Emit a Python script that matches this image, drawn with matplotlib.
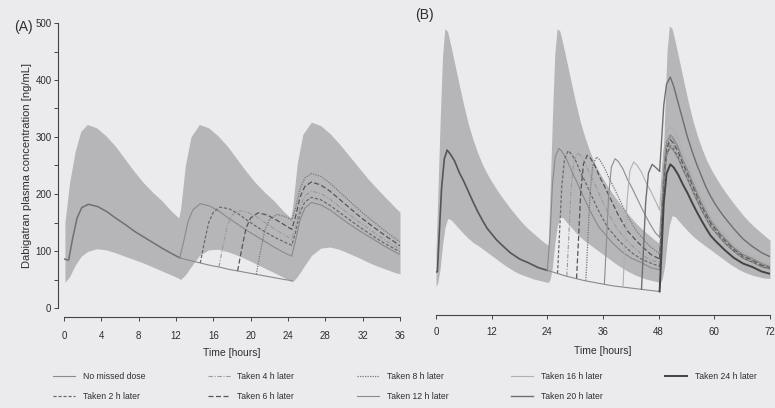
import numpy as np
import matplotlib
matplotlib.use("Agg")
import matplotlib.pyplot as plt
from matplotlib.lines import Line2D

plt.rcParams['font.family'] = ['Liberation Sans', 'DejaVu Sans']

bg = "#ebebee"
band_color = "#b6b6b9"
text_color = "#2e2e2e"

# ---------------- Panel A: twice daily (12 h interval) ----------------
a_t_nomiss = [0, 0.5, 0.9, 1.4, 1.9, 2.6, 3.6, 4.6, 5.6, 6.6, 7.6, 8.6, 9.6, 10.6, 11.6,
              12.4, 12.8, 13.3, 13.8, 14.6, 15.6, 16.6, 17.6, 18.6, 19.6, 20.6, 21.6, 22.6, 23.6,
              24.4, 24.8, 25.3, 25.8, 26.5, 27.5, 28.5, 29.5, 30.5, 31.5, 32.5, 33.5, 34.5, 35.5, 36]
a_c_nomiss = [86, 84, 120, 158, 176, 182, 178, 169, 157, 146, 134, 124, 114, 104, 95,
              88, 115, 152, 172, 183, 179, 170, 158, 147, 136, 126, 116, 106, 97,
              91, 118, 155, 175, 185, 181, 172, 160, 148, 137, 127, 117, 107, 98, 94]

# missed dose, not yet taken
a_t_skip = [12.4, 13.6, 14.6, 15.6, 16.6, 17.6, 18.6, 19.6, 20.6, 21.6, 22.6, 23.6, 24.4]
a_c_skip = [88, 83, 79, 75, 72, 68, 65, 62, 59, 56, 53, 50, 48]

a_t_2h = [14.6, 15.0, 15.5, 16.0, 16.7, 17.7, 18.7, 19.7, 20.7, 21.7, 22.7, 23.7,
          24.4, 24.8, 25.3, 25.8, 26.5, 27.5, 28.5, 29.5, 30.5, 31.5, 32.5, 33.5, 34.5, 35.5, 36]
a_c_2h = [79, 112, 150, 168, 177, 174, 165, 153, 142, 132, 123, 115,
          110, 132, 168, 186, 194, 190, 180, 168, 156, 144, 133, 122, 112, 103, 99]
a_t_4h = [16.6, 17.0, 17.5, 18.0, 18.7, 19.7, 20.7, 21.7, 22.7, 23.7,
          24.4, 24.8, 25.3, 25.8, 26.5, 27.5, 28.5, 29.5, 30.5, 31.5, 32.5, 33.5, 34.5, 35.5, 36]
a_c_4h = [72, 106, 145, 163, 171, 168, 159, 148, 137, 127,
          121, 142, 178, 197, 205, 201, 191, 178, 165, 152, 141, 129, 118, 108, 103]
a_t_6h = [18.6, 19.0, 19.5, 20.0, 20.8, 21.8, 22.8, 23.8,
          24.4, 24.8, 25.3, 25.8, 26.5, 27.5, 28.5, 29.5, 30.5, 31.5, 32.5, 33.5, 34.5, 35.5, 36]
a_c_6h = [65, 100, 140, 158, 167, 163, 154, 144,
          138, 160, 195, 213, 221, 216, 205, 191, 177, 163, 150, 138, 126, 115, 109]
a_t_8h = [20.6, 21.0, 21.5, 22.0, 22.8, 23.6,
          24.4, 24.8, 25.3, 25.8, 26.5, 27.5, 28.5, 29.5, 30.5, 31.5, 32.5, 33.5, 34.5, 35.5, 36]
a_c_8h = [59, 95, 135, 155, 164, 161,
          155, 175, 210, 228, 236, 231, 219, 204, 189, 174, 160, 147, 134, 122, 116]

# shaded variability band
a_t_band = [0.1, 0.6, 1.2, 1.8, 2.5, 3.5, 4.5, 5.5, 6.5, 7.5, 8.5, 9.5, 10.5, 11.5, 12.3,
            12.5, 13.0, 13.6, 14.5, 15.5, 16.5, 17.5, 18.5, 19.5, 20.5, 21.5, 22.5, 23.5, 24.3,
            24.5, 25.0, 25.6, 26.5, 27.5, 28.5, 29.5, 30.5, 31.5, 32.5, 33.5, 34.5, 35.5, 36]
a_band_hi = [150, 220, 275, 310, 322, 316, 302, 284, 262, 240, 220, 203, 188, 170, 158,
             175, 250, 300, 322, 316, 302, 284, 262, 240, 220, 203, 188, 170, 158,
             178, 255, 305, 326, 320, 306, 288, 268, 248, 228, 210, 193, 176, 168]
a_band_lo = [45, 55, 75, 90, 99, 104, 102, 97, 91, 85, 79, 72, 65, 58, 52,
             50, 58, 72, 92, 102, 103, 99, 93, 86, 78, 70, 62, 54, 47,
             46, 55, 70, 92, 105, 107, 103, 96, 89, 81, 74, 68, 62, 60]

# ---------------- Panel B: once daily (24 h interval) ----------------
b_t_nomiss = [0, 0.3, 0.7, 1.2, 1.8, 2.4, 3, 4, 5, 6, 7, 8, 9, 10, 11, 12, 13, 14, 16, 18, 20, 22, 24,
              24.6, 25.1, 25.7, 26.5, 27.2, 28.2, 29.2, 30.2, 31.2, 32.2, 33.2, 34.2, 35.2, 36.2,
              37.2, 38.2, 40.2, 42.2, 44.2, 46.2, 48.2]
b_c_nomiss = [63, 64, 130, 210, 262, 277, 271, 258, 238, 222, 204, 186, 169, 154, 140, 130, 120, 112, 97, 86, 79, 71, 66,
              130, 216, 265, 280, 274, 260, 241, 224, 206, 188, 171, 155, 141, 132,
              122, 113, 98, 87, 80, 71, 67]
n_first_b = 23  # points of the first day, shared by all scenarios

b_t_skip = [24, 26, 28, 30, 32, 34, 36, 38, 40, 42, 44, 46, 48.2]
b_c_skip = [66, 61, 56, 52, 48, 45, 42, 39, 37, 35, 33, 31, 29]

b_t_2h = [26.2, 26.6, 27.1, 27.7, 28.5, 29.2, 30.2, 31.2, 32.2, 33.2, 34.2, 35.2, 36.2, 37.2, 38.2,
          39.2, 40.2, 42.2, 44.2, 46.2, 48.2]
b_c_2h = [61, 126, 212, 261, 276, 270, 257, 237, 221, 203, 185, 168, 153, 139, 130,
          120, 112, 97, 86, 79, 73]
b_t_4h = [28.2, 28.6, 29.1, 29.7, 30.5, 31.2, 32.2, 33.2, 34.2, 35.2, 36.2, 37.2, 38.2, 39.2, 40.2,
          41.2, 42.2, 44.2, 46.2, 48.2]
b_c_4h = [56, 121, 207, 257, 272, 267, 253, 234, 218, 200, 182, 166, 151, 137, 128,
          118, 110, 95, 84, 80]
b_t_6h = [30.3, 30.7, 31.2, 31.8, 32.6, 33.3, 34.3, 35.3, 36.3, 37.3, 38.3, 39.3, 40.3, 41.3, 42.3,
          43.3, 44.3, 46.3, 48.2]
b_c_6h = [52, 117, 203, 253, 268, 263, 249, 230, 214, 197, 180, 163, 149, 135, 126,
          117, 109, 94, 86]
b_t_8h = [32.3, 32.7, 33.2, 33.8, 34.6, 35.3, 36.3, 37.3, 38.3, 39.3, 40.3, 41.3, 42.3, 43.3, 44.3,
          45.3, 46.3, 48.2]
b_c_8h = [48, 113, 200, 250, 265, 260, 246, 228, 212, 195, 178, 162, 147, 134, 125,
          115, 107, 95]
b_t_12h = [36.3, 36.7, 37.2, 37.8, 38.6, 39.3, 40.3, 41.3, 42.3, 43.3, 44.3, 45.3, 46.3, 47.3, 48.2]
b_c_12h = [42, 108, 196, 247, 262, 257, 244, 225, 210, 193, 176, 160, 145, 132, 124]
b_t_16h = [40.3, 40.7, 41.2, 41.8, 42.6, 43.3, 44.3, 45.3, 46.3, 47.3, 48.2]
b_c_16h = [37, 103, 190, 241, 256, 251, 238, 220, 205, 188, 172]
b_t_20h = [44.3, 44.7, 45.2, 45.8, 46.6, 47.3, 48.2]
b_c_20h = [33, 99, 186, 237, 252, 247, 240]

# third day, all scenarios
b_t_day3 = [48.2, 48.6, 49.1, 49.7, 50.5, 51.2, 52.2, 53.2, 54.2, 55.2, 56.2, 57.2, 58.2, 59.2,
            60.2, 61.2, 62.2, 64.2, 66.2, 68.2, 70.2, 72]
b_day3 = {
    "No missed dose":   [67, 132, 218, 267, 282, 276, 262, 243, 226, 207, 189, 172, 157, 142, 133, 123, 114, 99, 87, 80, 72, 68],
    "Taken 2 h later":  [73, 137, 221, 270, 285, 279, 265, 245, 228, 209, 191, 174, 158, 144, 134, 124, 115, 100, 88, 81, 73, 69],
    "Taken 4 h later":  [80, 143, 227, 275, 290, 284, 270, 249, 232, 213, 194, 177, 161, 146, 136, 126, 117, 102, 90, 83, 74, 70],
    "Taken 6 h later":  [86, 149, 232, 280, 295, 289, 274, 254, 236, 217, 198, 180, 164, 149, 139, 128, 119, 103, 91, 84, 75, 71],
    "Taken 8 h later":  [95, 157, 239, 286, 300, 294, 279, 258, 240, 221, 201, 183, 167, 152, 141, 131, 122, 105, 93, 86, 77, 72],
    "Taken 12 h later": [124, 178, 250, 291, 304, 298, 283, 261, 243, 223, 204, 185, 169, 154, 143, 132, 123, 106, 94, 87, 78, 73],
    "Taken 16 h later": [172, 216, 274, 308, 318, 312, 296, 273, 254, 234, 213, 194, 176, 161, 149, 138, 129, 111, 99, 91, 81, 76],
    "Taken 20 h later": [240, 290, 356, 393, 405, 390, 360, 330, 300, 275, 252, 232, 212, 196, 182, 170, 159, 139, 121, 108, 97, 90],
    "Taken 24 h later": [29, 96, 185, 236, 252, 247, 234, 217, 202, 185, 169, 154, 140, 127, 118, 110, 102, 88, 78, 72, 64, 60],
}

b_t_band = [0, 0.4, 0.9, 1.4, 1.9, 2.5, 3.2, 4, 5, 6, 7, 8, 9, 10, 11, 12, 13, 14, 15, 16, 17, 18, 19, 20, 21, 22, 23, 24,
            24.2, 24.6, 25.1, 25.6, 26.1, 26.7, 27.4, 28.2, 29.2, 30.2, 31.2, 32.2, 33.2, 34.2, 35.2, 36.2, 37.2,
            38.2, 39.2, 40.2, 41.2, 42.2, 43.2, 44.2, 45.2, 46.2, 47.2, 48.2,
            48.4, 48.8, 49.3, 49.8, 50.3, 50.9, 51.6, 52.4, 53.4, 54.4, 55.4, 56.4, 57.4, 58.4, 59.4, 60.4, 61.4,
            62.4, 63.4, 64.4, 65.4, 66.4, 67.4, 68.4, 69.4, 70.4, 71.4, 72]
b_band_hi = [101, 200, 330, 440, 490, 485, 460, 430, 392, 355, 322, 295, 272, 252, 236, 222, 209, 197, 186, 175, 165, 155, 146, 138, 131, 124, 117, 111,
             112, 205, 335, 445, 490, 486, 462, 432, 394, 357, 324, 297, 274, 254, 238, 224, 211,
             199, 188, 177, 167, 157, 148, 140, 133, 126, 119, 113,
             113, 210, 340, 450, 495, 490, 466, 436, 398, 361, 328, 301, 278, 258, 242, 228, 215,
             203, 192, 181, 171, 161, 152, 144, 137, 130, 123, 119]
b_band_lo = [37, 45, 70, 110, 140, 157, 155, 148, 139, 130, 122, 115, 110, 104, 98, 92, 86, 80, 74, 69, 64, 60, 57, 54, 51, 49, 47, 45,
             45, 50, 72, 112, 142, 160, 158, 150, 141, 132, 124, 117, 111, 105, 99, 93, 87,
             81, 75, 70, 65, 61, 57, 54, 51, 49, 47, 45,
             45, 52, 74, 114, 145, 162, 160, 152, 143, 134, 126, 119, 113, 107, 101, 95, 89,
             83, 77, 72, 67, 63, 60, 57, 55, 53, 52, 52]

labels = ["No missed dose", "Taken 2 h later", "Taken 4 h later", "Taken 6 h later", "Taken 8 h later",
          "Taken 12 h later", "Taken 16 h later", "Taken 20 h later", "Taken 24 h later"]

styles = {
    "No missed dose":   dict(color="#8a8a8a", ls="-", lw=0.8),
    "Taken 2 h later":  dict(color="#6a6a6a", ls=(0, (2.5, 1.5)), lw=0.9),
    "Taken 4 h later":  dict(color="#9a9a9a", ls=(0, (4, 1.5, 1, 1.5)), lw=0.8),
    "Taken 6 h later":  dict(color="#555555", ls=(0, (4, 2)), lw=0.9),
    "Taken 8 h later":  dict(color="#777777", ls=(0, (1, 1)), lw=0.9),
    "Taken 12 h later": dict(color="#8c8c8c", ls="-", lw=0.8),
    "Taken 16 h later": dict(color="#b0b0b0", ls="-", lw=0.8),
    "Taken 20 h later": dict(color="#6e6e6e", ls="-", lw=1.0),
    "Taken 24 h later": dict(color="#444444", ls="-", lw=1.4),
}

fig = plt.figure(figsize=(7.75, 4.08), dpi=100, facecolor=bg)
axA = fig.add_axes([64 / 775, 100 / 408, 336 / 775, 285 / 408])
axB = fig.add_axes([436 / 775, 100 / 408, 334 / 775, 285 / 408])

for ax in (axA, axB):
    ax.set_facecolor("none")
    ax.set_ylim(0, 500)
    for s in ("top", "right"):
        ax.spines[s].set_visible(False)
    ax.spines["bottom"].set_color("#444444")
    ax.spines["bottom"].set_linewidth(0.8)
    ax.tick_params(colors="#444444", labelcolor=text_color, labelsize=7, length=3, width=0.7)

# --- Panel A ---
axA.fill_between(a_t_band, a_band_lo, a_band_hi, color=band_color, lw=0)
axA.plot(a_t_nomiss[:16], a_c_nomiss[:16], color="#707070", lw=1.1)
axA.plot(a_t_nomiss[15:], a_c_nomiss[15:], **styles["No missed dose"])
axA.plot(a_t_skip, a_c_skip, color="#8a8a8a", lw=0.8)
for lab, tt, cc in [("Taken 2 h later", a_t_2h, a_c_2h), ("Taken 4 h later", a_t_4h, a_c_4h),
                    ("Taken 6 h later", a_t_6h, a_c_6h), ("Taken 8 h later", a_t_8h, a_c_8h)]:
    axA.plot(tt, cc, **styles[lab])

axA.set_xlim(0, 36)
axA.set_xticks(np.arange(0, 37, 4))
axA.set_yticks(np.arange(0, 501, 100))
axA.set_yticks(np.arange(50, 500, 100), minor=True)
axA.tick_params(axis="y", which="minor", length=3, width=0.7, colors="#444444")
axA.spines["left"].set_color("#444444")
axA.spines["left"].set_linewidth(0.8)
axA.spines["left"].set_position(("outward", 4.5))
axA.spines["bottom"].set_position(("outward", 6.5))
axA.spines["left"].set_bounds(0, 500)
axA.spines["bottom"].set_bounds(0, 36)
axA.tick_params(axis="x", pad=7)
axA.tick_params(axis="y", pad=1.5)
axA.set_xlabel("Time [hours]", fontsize=7.5, color=text_color, labelpad=5)

# --- Panel B ---
axB.fill_between(b_t_band, b_band_lo, b_band_hi, color=band_color, lw=0)
axB.plot(b_t_nomiss[:n_first_b], b_c_nomiss[:n_first_b], color="#555555", lw=1.2)
axB.plot(b_t_nomiss[n_first_b - 1:], b_c_nomiss[n_first_b - 1:], **styles["No missed dose"])
axB.plot(b_t_skip, b_c_skip, color="#8a8a8a", lw=0.8)
for lab, tt, cc in [("Taken 2 h later", b_t_2h, b_c_2h), ("Taken 4 h later", b_t_4h, b_c_4h),
                    ("Taken 6 h later", b_t_6h, b_c_6h), ("Taken 8 h later", b_t_8h, b_c_8h),
                    ("Taken 12 h later", b_t_12h, b_c_12h), ("Taken 16 h later", b_t_16h, b_c_16h),
                    ("Taken 20 h later", b_t_20h, b_c_20h)]:
    axB.plot(tt, cc, **styles[lab])
for lab in labels:
    axB.plot(b_t_day3, b_day3[lab], **styles[lab])

axB.set_xlim(0, 72)
axB.set_xticks(np.arange(0, 73, 12))
axB.spines["left"].set_visible(False)
axB.set_yticks([])
axB.spines["bottom"].set_position(("outward", 5))
axB.spines["bottom"].set_bounds(0, 72)
axB.tick_params(axis="x", pad=6)
axB.set_xlabel("Time [hours]", fontsize=7.5, color=text_color, labelpad=6)

fig.text(27 / 775, 1 - 166 / 408, "Dabigatran plasma concentration [ng/mL]", rotation=90,
         ha="center", va="center", fontsize=8, color=text_color)
fig.text(23 / 775, 1 - 27 / 408, "(A)", ha="center", va="center", fontsize=10, color=text_color)
fig.text(424 / 775, 1 - 15 / 408, "(B)", ha="center", va="center", fontsize=10, color=text_color)

handles = [Line2D([], [], **styles[lab]) for lab in labels]
fig.legend(handles, labels, ncol=5, loc="center", bbox_to_anchor=(50 / 775, 0.0, 710 / 775, 0.106),
           mode="expand", frameon=False, fontsize=6.2, handlelength=2.5, handletextpad=0.9,
           labelcolor=text_color, borderaxespad=0, labelspacing=1.3)

fig.savefig("out.png", dpi=100, facecolor=bg)
